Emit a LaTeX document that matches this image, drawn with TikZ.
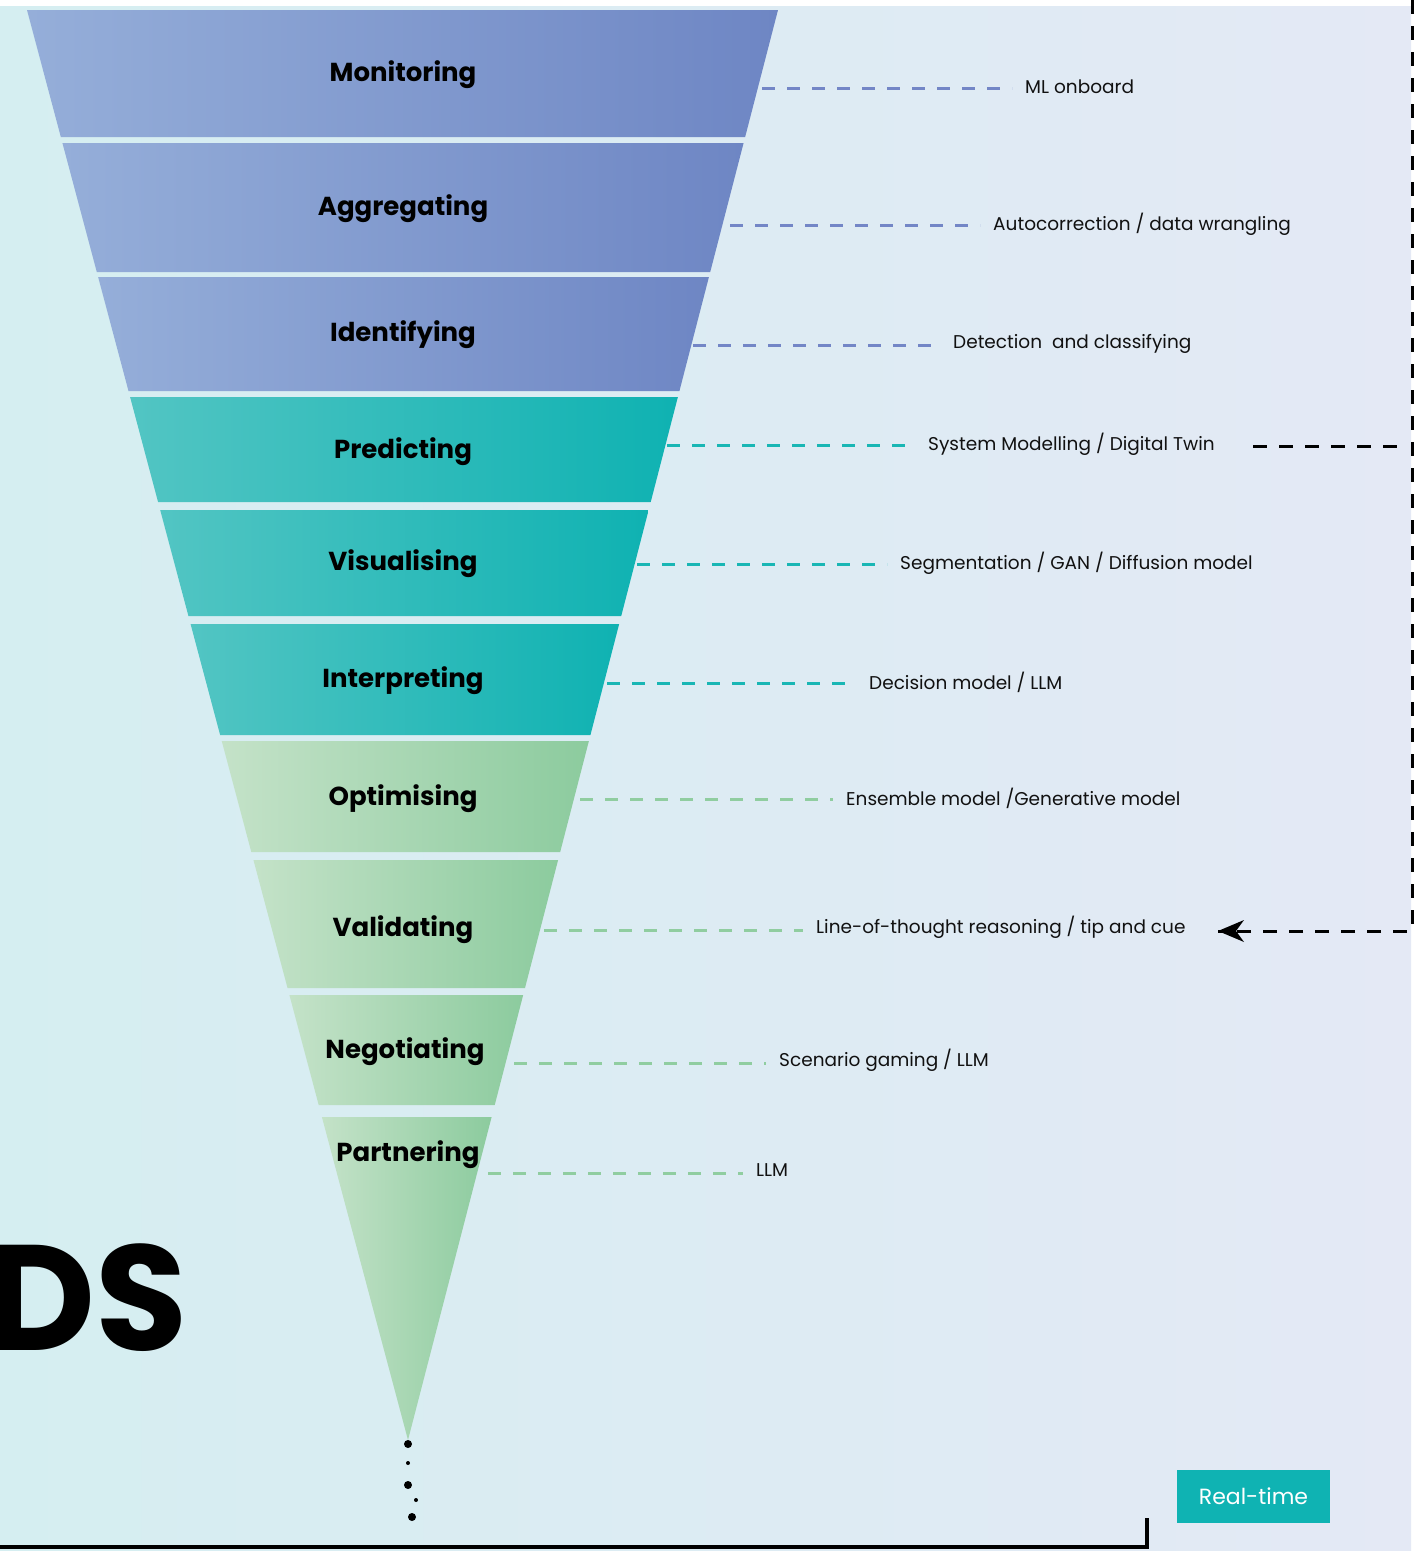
\documentclass[tikz,border=0pt]{standalone}
\usepackage{fontspec}
\setmainfont{Poppins}
\usetikzlibrary{arrows.meta}
\definecolor{bgL}{HTML}{D5EEF1}
\definecolor{bgR}{HTML}{E4E9F5}
\definecolor{blueL}{HTML}{95AED9}
\definecolor{blueR}{HTML}{6E86C4}
\definecolor{tealL}{HTML}{52C5C3}
\definecolor{tealR}{HTML}{0FB2B2}
\definecolor{greenL}{HTML}{C4E2C8}
\definecolor{greenR}{HTML}{8CCB9E}
\definecolor{dblue}{HTML}{7386C6}
\definecolor{dteal}{HTML}{19B6B4}
\definecolor{dgreen}{HTML}{90CDA0}
\definecolor{txt}{HTML}{111111}
\definecolor{btn}{HTML}{0FB3B3}
\newcommand\funnelseg[4]{%
  \shade[left color=#3,right color=#4]
    ({27+0.2664*(#1-10)},#1) -- ({778-0.2587*(#1-10)},#1) --
    ({778-0.2587*(#2-10)},#2) -- ({27+0.2664*(#2-10)},#2) -- cycle;}
\tikzset{
  seglabel/.style={font=\fontsize{26}{30}\selectfont\bfseries, text=black, inner sep=0pt},
  sidelabel/.style={font=\fontsize{18.5}{22}\selectfont, text=txt, anchor=west, inner sep=0pt},
  conn/.style={line width=3pt, dash pattern=on 13pt off 12pt, shorten >=13pt},
  blackdash/.style={line width=3pt, dash pattern=on 14pt off 12pt, black},
  dot/.style={circle, fill=black, inner sep=0pt}
}
\begin{document}
\begin{tikzpicture}[x=1pt,y=-1pt]
\useasboundingbox (0,0) rectangle (1414,1551);
\fill[white] (0,0) rectangle (1414,1551);
\shade[left color=bgL,right color=bgR] (0,6) rectangle (1411,1551);
% funnel segments
\funnelseg{10}{137}{blueL}{blueR}
\funnelseg{143}{272}{blueL}{blueR}
\funnelseg{277}{391}{blueL}{blueR}
\funnelseg{397}{502}{tealL}{tealR}
\funnelseg{510}{616}{tealL}{tealR}
\funnelseg{624}{735}{tealL}{tealR}
\funnelseg{741}{852}{greenL}{greenR}
\funnelseg{860}{988}{greenL}{greenR}
\funnelseg{995}{1105}{greenL}{greenR}
\shade[left color=greenL,right color=greenR]
  ({27+0.2664*1107},1117) -- ({778-0.2587*1107},1117) -- (408,1440) -- cycle;
% segment labels
\node[seglabel] (s1) at (403,75) {Monitoring};
\node[seglabel] (s2) at (403,209) {Aggregating};
\node[seglabel] (s3) at (403,335) {Identifying};
\node[seglabel] (s4) at (403,452) {Predicting};
\node[seglabel] (s5) at (403,564) {Visualising};
\node[seglabel] (s6) at (403,681) {Interpreting};
\node[seglabel] (s7) at (403,799) {Optimising};
\node[seglabel] (s8) at (403,930) {Validating};
\node[seglabel] (s9) at (405,1052) {Negotiating};
\node[seglabel] (s10) at (408,1155) {Partnering};
% edge coordinates
\coordinate (e1) at (762,88);
\coordinate (e2) at (730,225);
\coordinate (e3) at (693,345);
\coordinate (e4) at (667,445);
\coordinate (e5) at (637,564);
\coordinate (e6) at (607,683);
\coordinate (e7) at (580,799);
\coordinate (e8) at (544,930);
\coordinate (e9) at (514,1063);
\coordinate (e10) at (488,1173);
% side labels
\node[sidelabel] (l1) at (1025,87) {ML onboard};
\node[sidelabel] (l2) at (993,224) {Autocorrection / data wrangling};
\node[sidelabel] (l3) at (953,344) {Detection\ \ and classifying};
\node[sidelabel] (l4) at (928,444) {System Modelling / Digital Twin};
\node[sidelabel] (l5) at (900,563) {Segmentation / GAN / Diffusion model};
\node[sidelabel] (l6) at (869,682) {Decision model / LLM};
\node[sidelabel] (l7) at (846,798) {Ensemble model /Generative model};
\node[sidelabel] (l8) at (816,927) {Line-of-thought reasoning / tip and cue};
\node[sidelabel] (l9) at (779,1060) {Scenario gaming / LLM};
\node[sidelabel] (l10) at (756,1170) {LLM};
% connectors
\draw[conn,dblue] (e1) -- (l1.west |- e1);
\draw[conn,dblue] (e2) -- (l2.west |- e2);
\draw[conn,dblue] (e3) -- (l3.west |- e3);
\draw[conn,dteal] (e4) -- (l4.west |- e4);
\draw[conn,dteal] (e5) -- (l5.west |- e5);
\draw[conn,dteal] (e6) -- (l6.west |- e6);
\draw[conn,dgreen] (e7) -- (l7.west |- e7);
\draw[conn,dgreen] (e8) -- (l8.west |- e8);
\draw[conn,dgreen] (e9) -- (l9.west |- e9);
\draw[conn,dgreen] (e10) -- (l10.west |- e10);
% black feedback loop
\coordinate (h1) at (1253,446);
\coordinate (h2) at (1404,446);
\coordinate (vtop) at (1412,0);
\coordinate (vcorner) at (1412,931);
\coordinate (atip) at (1218,931);
\draw[blackdash] (h1) -- (h2);
\draw[blackdash] (vtop) -- (vcorner) -- (atip);
\fill[black] (atip) -- (1244,920) -- (1236,931) -- (1244,942) -- cycle;
% DS
\node[font=\fontsize{150}{150}\selectfont\bfseries, anchor=base east, inner sep=0pt] (ds) at (188,1350) {DS};
% dots
\node[dot, minimum size=8pt] (d1) at (408,1444) {};
\node[dot, minimum size=4pt] (d2) at (408,1463) {};
\node[dot, minimum size=8pt] (d3) at (408,1485) {};
\node[dot, minimum size=4pt] (d4) at (416,1500) {};
\node[dot, minimum size=8pt] (d5) at (412,1517) {};
% bottom bracket
\coordinate (b0) at (0,1547);
\coordinate (b1) at (1147,1547);
\coordinate (b2) at (1147,1518);
\draw[line width=4pt, black] (b0) -- (b1) -- (b2);
% Real-time button
\node[fill=btn, text=white, minimum width=153pt, minimum height=53pt, inner sep=0pt,
      font=\fontsize{22}{26}\selectfont] (rt) at (1253.5,1496.5) {Real-time};
\end{tikzpicture}
\end{document}
